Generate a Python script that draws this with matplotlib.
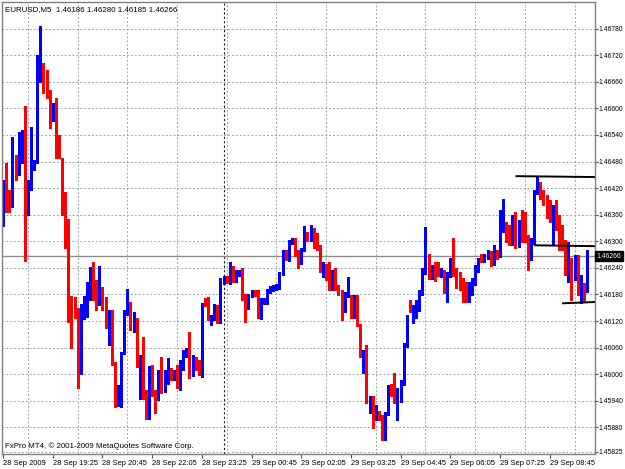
"""EURUSD M5 candlestick chart in the MetaTrader 4 style."""

import matplotlib
matplotlib.use("Agg")
import matplotlib.pyplot as plt
import matplotlib.transforms as mtransforms
import numpy as np
import pandas as pd

opens = [
    1.46337, 1.46431, 1.46398, 1.46382, 1.46474, 1.46456, 1.46506, 1.46529, 1.46393, 1.46431,
    1.46468, 1.46481, 1.46662, 1.46682, 1.46676, 1.46633, 1.46576, 1.46590, 1.46522, 1.46483,
    1.46375, 1.46323, 1.46167, 1.46160, 1.46138, 1.46004, 1.46129, 1.46140, 1.46172, 1.46208,
    1.46208, 1.46160, 1.46183, 1.46167, 1.46126, 1.46140, 1.46020, 1.45934, 1.45970, 1.46047,
    1.46138, 1.46158, 1.46111, 1.46122, 1.46020, 1.46031, 1.45943, 1.45903, 1.45998, 1.45952,
    1.45952, 1.46002, 1.45964, 1.45982, 1.46004, 1.45991, 1.46002, 1.45968, 1.46016, 1.46043,
    1.46052, 1.46000, 1.46031, 1.46018, 1.45998, 1.46163, 1.46172, 1.46115, 1.46126, 1.46144,
    1.46118, 1.46210, 1.46215, 1.46208, 1.46239, 1.46212, 1.46226, 1.46230, 1.46176, 1.46151,
    1.46178, 1.46185, 1.46185, 1.46129, 1.46163, 1.46163, 1.46188, 1.46190, 1.46192, 1.46197,
    1.46228, 1.46273, 1.46260, 1.46296, 1.46303, 1.46273, 1.46251, 1.46282, 1.46314, 1.46303,
    1.46325, 1.46303, 1.46285, 1.46230, 1.46242, 1.46219, 1.46194, 1.46217, 1.46194, 1.46183,
    1.46156, 1.46178, 1.46174, 1.46129, 1.46174, 1.46109, 1.46038, 1.46043, 1.45934, 1.45948,
    1.45900, 1.45905, 1.45903, 1.45866, 1.45912, 1.45970, 1.45964, 1.45934, 1.45943, 1.45979,
    1.46065, 1.46147, 1.46129, 1.46129, 1.46147, 1.46183, 1.46230, 1.46264, 1.46219, 1.46239,
    1.46228, 1.46224, 1.46228, 1.46185, 1.46224, 1.46257, 1.46228, 1.46224, 1.46212, 1.46201,
    1.46167, 1.46183, 1.46206, 1.46239, 1.46264, 1.46257, 1.46262, 1.46271, 1.46251, 1.46271,
    1.46269, 1.46325, 1.46330, 1.46318, 1.46303, 1.46312, 1.46291, 1.46343, 1.46325, 1.46303,
    1.46296, 1.46298, 1.46411, 1.46416, 1.46400, 1.46395, 1.46375, 1.46341, 1.46375, 1.46348,
    1.46303, 1.46291, 1.46212, 1.46244, 1.46217, 1.46264, 1.46178, 1.46192, 1.46186,
]
highs = [
    1.46438, 1.46477, 1.46416, 1.46535, 1.46495, 1.46547, 1.46551, 1.46605, 1.46438, 1.46558,
    1.46483, 1.46721, 1.46786, 1.46703, 1.46687, 1.46642, 1.46612, 1.46624, 1.46540, 1.46488,
    1.46411, 1.46350, 1.46176, 1.46174, 1.46149, 1.46158, 1.46176, 1.46208, 1.46242, 1.46253,
    1.46212, 1.46244, 1.46197, 1.46174, 1.46144, 1.46144, 1.46027, 1.45975, 1.46050, 1.46144,
    1.46192, 1.46163, 1.46140, 1.46126, 1.46043, 1.46084, 1.45964, 1.46018, 1.46020, 1.45964,
    1.46009, 1.46038, 1.46009, 1.46036, 1.46013, 1.46009, 1.46020, 1.46031, 1.46054, 1.46059,
    1.46095, 1.46043, 1.46038, 1.46031, 1.46160, 1.46172, 1.46174, 1.46133, 1.46158, 1.46156,
    1.46217, 1.46221, 1.46221, 1.46253, 1.46244, 1.46235, 1.46235, 1.46239, 1.46181, 1.46181,
    1.46190, 1.46190, 1.46190, 1.46172, 1.46172, 1.46192, 1.46199, 1.46201, 1.46203, 1.46230,
    1.46280, 1.46280, 1.46303, 1.46307, 1.46307, 1.46280, 1.46285, 1.46334, 1.46321, 1.46337,
    1.46330, 1.46318, 1.46291, 1.46253, 1.46248, 1.46253, 1.46235, 1.46239, 1.46201, 1.46190,
    1.46185, 1.46219, 1.46178, 1.46178, 1.46178, 1.46113, 1.46054, 1.46065, 1.45952, 1.45952,
    1.45930, 1.45918, 1.45909, 1.45914, 1.45975, 1.45977, 1.46002, 1.45968, 1.45986, 1.46070,
    1.46133, 1.46167, 1.46156, 1.46167, 1.46190, 1.46239, 1.46332, 1.46271, 1.46246, 1.46253,
    1.46253, 1.46239, 1.46235, 1.46230, 1.46262, 1.46307, 1.46239, 1.46230, 1.46217, 1.46208,
    1.46208, 1.46217, 1.46246, 1.46262, 1.46271, 1.46271, 1.46280, 1.46278, 1.46291, 1.46280,
    1.46370, 1.46395, 1.46343, 1.46337, 1.46359, 1.46366, 1.46348, 1.46370, 1.46366, 1.46314,
    1.46307, 1.46416, 1.46445, 1.46434, 1.46416, 1.46404, 1.46393, 1.46382, 1.46393, 1.46359,
    1.46337, 1.46303, 1.46298, 1.46262, 1.46269, 1.46269, 1.46224, 1.46206, 1.46280,
]
lows = [
    1.46334, 1.46366, 1.46366, 1.46377, 1.46438, 1.46450, 1.46477, 1.46255, 1.46359, 1.46416,
    1.46461, 1.46477, 1.46660, 1.46635, 1.46624, 1.46556, 1.46572, 1.46488, 1.46488, 1.46359,
    1.46285, 1.46118, 1.46059, 1.46126, 1.45968, 1.46000, 1.46124, 1.46129, 1.46167, 1.46167,
    1.46144, 1.46156, 1.46144, 1.46104, 1.46065, 1.46020, 1.45925, 1.45928, 1.45925, 1.46045,
    1.46133, 1.46099, 1.46095, 1.46016, 1.45945, 1.45943, 1.45900, 1.45900, 1.45952, 1.45912,
    1.45941, 1.45957, 1.45959, 1.45977, 1.45986, 1.45986, 1.45968, 1.45964, 1.46009, 1.46038,
    1.45991, 1.45995, 1.46009, 1.45998, 1.45993, 1.46154, 1.46122, 1.46111, 1.46122, 1.46115,
    1.46115, 1.46203, 1.46206, 1.46203, 1.46208, 1.46208, 1.46221, 1.46167, 1.46118, 1.46147,
    1.46174, 1.46176, 1.46126, 1.46124, 1.46158, 1.46158, 1.46183, 1.46188, 1.46190, 1.46192,
    1.46224, 1.46257, 1.46255, 1.46294, 1.46266, 1.46239, 1.46248, 1.46278, 1.46300, 1.46300,
    1.46285, 1.46280, 1.46230, 1.46219, 1.46212, 1.46190, 1.46190, 1.46190, 1.46178, 1.46122,
    1.46140, 1.46174, 1.46126, 1.46126, 1.46109, 1.46038, 1.46002, 1.45934, 1.45912, 1.45878,
    1.45896, 1.45896, 1.45851, 1.45851, 1.45907, 1.45952, 1.45934, 1.45896, 1.45937, 1.45975,
    1.46061, 1.46140, 1.46115, 1.46126, 1.46142, 1.46178, 1.46226, 1.46215, 1.46215, 1.46210,
    1.46221, 1.46219, 1.46183, 1.46163, 1.46219, 1.46221, 1.46194, 1.46190, 1.46163, 1.46163,
    1.46163, 1.46178, 1.46201, 1.46230, 1.46253, 1.46253, 1.46260, 1.46244, 1.46246, 1.46260,
    1.46264, 1.46321, 1.46298, 1.46291, 1.46291, 1.46285, 1.46287, 1.46298, 1.46298, 1.46235,
    1.46257, 1.46294, 1.46407, 1.46395, 1.46382, 1.46352, 1.46343, 1.46291, 1.46325, 1.46280,
    1.46280, 1.46224, 1.46208, 1.46167, 1.46212, 1.46178, 1.46160, 1.46163, 1.46185,
]
closes = [
    1.46431, 1.46393, 1.46382, 1.46474, 1.46456, 1.46506, 1.46531, 1.46409, 1.46431, 1.46468,
    1.46481, 1.46662, 1.46682, 1.46680, 1.46630, 1.46578, 1.46587, 1.46524, 1.46492, 1.46377,
    1.46330, 1.46172, 1.46154, 1.46138, 1.46002, 1.46129, 1.46140, 1.46178, 1.46219, 1.46206,
    1.46156, 1.46190, 1.46163, 1.46126, 1.46138, 1.46024, 1.45934, 1.45968, 1.46047, 1.46138,
    1.46158, 1.46111, 1.46122, 1.46020, 1.46031, 1.45945, 1.45903, 1.46004, 1.45957, 1.45937,
    1.45998, 1.45959, 1.45982, 1.46004, 1.45991, 1.46002, 1.45970, 1.46016, 1.46045, 1.46052,
    1.45993, 1.46031, 1.46013, 1.46002, 1.46158, 1.46156, 1.46126, 1.46126, 1.46154, 1.46118,
    1.46210, 1.46215, 1.46208, 1.46242, 1.46212, 1.46228, 1.46230, 1.46169, 1.46144, 1.46176,
    1.46183, 1.46178, 1.46129, 1.46167, 1.46167, 1.46190, 1.46197, 1.46197, 1.46199, 1.46228,
    1.46269, 1.46260, 1.46298, 1.46300, 1.46269, 1.46253, 1.46280, 1.46314, 1.46303, 1.46325,
    1.46287, 1.46285, 1.46235, 1.46242, 1.46217, 1.46194, 1.46219, 1.46194, 1.46183, 1.46156,
    1.46183, 1.46183, 1.46129, 1.46174, 1.46111, 1.46040, 1.46043, 1.45937, 1.45945, 1.45900,
    1.45912, 1.45903, 1.45866, 1.45912, 1.45970, 1.45959, 1.45937, 1.45943, 1.45979, 1.46065,
    1.46129, 1.46142, 1.46147, 1.46160, 1.46183, 1.46230, 1.46266, 1.46219, 1.46239, 1.46224,
    1.46224, 1.46230, 1.46185, 1.46219, 1.46257, 1.46224, 1.46215, 1.46206, 1.46167, 1.46167,
    1.46201, 1.46206, 1.46242, 1.46253, 1.46257, 1.46264, 1.46269, 1.46251, 1.46269, 1.46264,
    1.46325, 1.46332, 1.46303, 1.46298, 1.46318, 1.46291, 1.46343, 1.46303, 1.46303, 1.46264,
    1.46298, 1.46411, 1.46420, 1.46400, 1.46388, 1.46359, 1.46352, 1.46375, 1.46332, 1.46296,
    1.46287, 1.46228, 1.46269, 1.46212, 1.46244, 1.46194, 1.46201, 1.46183, 1.46266,
]

first_bar = "2009-09-28 18:05"
price_ticks = [1.46780, 1.46720, 1.46660, 1.46600, 1.46540, 1.46480, 1.46420, 1.46360,
               1.46300, 1.46240, 1.46180, 1.46120, 1.46060, 1.46000, 1.45940, 1.45880, 1.45825]
bid = 1.46266

# hand-drawn trend lines: start bar, start price, price at the right edge
trend_start = [165, 171, 180]
trend_p0 = [1.46447, 1.46291, 1.46160]
trend_p1 = [1.46445, 1.46289, 1.46163]

plt.rcParams["font.family"] = ["Liberation Sans", "DejaVu Sans"]
FS = 5.4      # x labels and corner texts
FS_Y = 4.9    # price scale (narrow column on the right)

n = len(opens)
x = np.arange(n)
times = pd.date_range(first_bar, periods=n, freq="5min")
o = np.array(opens)
h = np.array(highs)
l = np.array(lows)
c = np.array(closes)
colors = np.where(c >= o, "#0000ff", "#ff0000")

fig = plt.figure(figsize=(6.25, 4.69), dpi=100)
ax = fig.add_axes([2 / 625, 1 - 454 / 469, 593 / 625, 452 / 469])
x_right = 190.6
ax.set_xlim(-0.35, x_right)
ax.set_ylim(1.45820, 1.46840)

# grid
ax.set_xticks(np.arange(0, n, 8), minor=True)
ax.grid(True, which="minor", axis="x", color="#9aa5b0", lw=0.7, ls=(0, (2, 2)))
ax.grid(True, which="major", axis="y", color="#9aa5b0", lw=0.7, ls=(0, (2, 2)))

# day separator
day_change = [i for i in range(1, n) if times[i].day != times[i - 1].day]
for d in day_change:
    ax.axvline(d, color="#202020", lw=0.8, ls=(0, (2, 2)))

# bid line
ax.axhline(bid, color="#8c8c8c", lw=1)

# candles
ax.vlines(x, l, h, colors=colors, lw=0.75, antialiased=False)
body = np.maximum(np.abs(c - o), 0.00002)
ax.bar(x, body, bottom=np.minimum(o, c), width=0.62, color=colors, lw=0, antialiased=False)

# trend lines
for s, p0, p1 in zip(trend_start, trend_p0, trend_p1):
    ax.plot([s, x_right], [p0, p1], color="black", lw=1.4, solid_capstyle="butt")

# axes styling
ax.yaxis.tick_right()
ax.set_yticks(price_ticks)
ax.set_yticklabels([f"{p:.5f}" for p in price_ticks])
ax.tick_params(axis="y", length=2, width=0.8, pad=0.8, labelsize=FS_Y, color="#505050")

label_idx = list(range(0, n, 16))
labels = ["28 Sep 2009"] + [times[i].strftime("%d %b %H:%M") for i in label_idx[1:]]
ax.set_xticks(label_idx)
ax.set_xticklabels(labels)
ax.tick_params(axis="x", which="major", length=3, width=0.8, pad=1.5, labelsize=FS, color="#505050")
ax.tick_params(axis="x", which="minor", length=0)
for t in ax.get_xticklabels():
    t.set_ha("left")

for sp in ax.spines.values():
    sp.set_color("#808080")
    sp.set_linewidth(1)

# current price label on the price scale
trans = mtransforms.blended_transform_factory(ax.transAxes, ax.transData)
ax.text(1.003, bid, f"{bid:.5f}", transform=trans, ha="left", va="center",
        fontsize=FS_Y, color="white",
        bbox=dict(boxstyle="square,pad=0.2", fc="black", ec="black"))

ax.text(0.005, 0.992, f"EURUSD,M5  {opens[-1]:.5f} {highs[-1]:.5f} {lows[-1]:.5f} {closes[-1]:.5f}",
        transform=ax.transAxes, ha="left", va="top", fontsize=FS + 0.3)
ax.text(0.005, 0.008, "FxPro MT4, © 2001-2009 MetaQuotes Software Corp.",
        transform=ax.transAxes, ha="left", va="bottom", fontsize=FS + 0.3)

fig.savefig("out.png", dpi=100)
plt.close(fig)
